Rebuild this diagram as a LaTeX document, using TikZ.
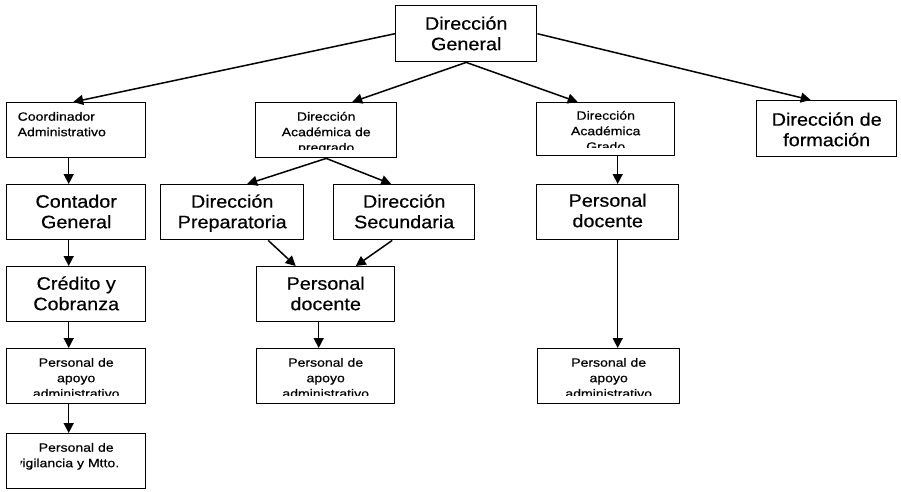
\documentclass[tikz,border=0pt]{standalone}
\usepackage{fontspec}
\setmainfont{Liberation Sans}
\newfontfamily\bigf[FakeStretch=1.1,FakeBold=0.4]{Liberation Sans}
\newfontfamily\smallf[FakeStretch=1.17,FakeBold=0.4]{Liberation Sans}
\usetikzlibrary{arrows.meta}
\def\ppb{path picture bounding box}
\newcommand{\BT}[1]{\parbox[t]{170pt}{\centering\bigf\fontsize{18}{20.5}\selectfont #1}}
\newcommand{\ST}[1]{\parbox[t]{170pt}{\centering\smallf\fontsize{12}{15.5}\selectfont #1}}
\newcommand{\SLL}[1]{\parbox[t]{120pt}{\raggedright\smallf\fontsize{12}{15.5}\selectfont #1}}
\newcommand{\SLR}[1]{\parbox[t]{120pt}{\raggedleft\smallf\fontsize{12}{15.5}\selectfont #1}}
\newcommand{\stdclip}{\clip ([yshift=8.5pt,xshift=2pt]\ppb.south west) rectangle ([xshift=-2pt]\ppb.north east);}
\newcommand{\orgbox}[6]{%
  \node[box, minimum width=#4pt, minimum height=#5pt, path picture={#6}] (#1) at (#2,#3) {};}
\tikzset{
  box/.style={draw, line width=1.4pt, rectangle, inner sep=0pt, anchor=north west},
  txt/.style={inner sep=0pt, anchor=base},
  arr/.style={line width=1.5pt, -{Triangle[length=10pt,width=10pt]}},
}
\begin{document}
\begin{tikzpicture}[x=1pt,y=-1pt]
\useasboundingbox[fill=white] (0,0) rectangle (901,491);
% row 0
\orgbox{DG}{395}{5}{141}{56}{\stdclip\node[txt] at ([yshift=-24pt]\ppb.north) {\BT{Dirección\\General}};}
% row 1
\orgbox{Coord}{6}{102}{139}{55}{\stdclip\node[txt] at ([xshift=1.5pt,yshift=-18pt]\ppb.north) {\SLL{Coordinador\\Administrativo}};}
\orgbox{Pre}{255}{102}{141}{55}{\stdclip\node[txt] at ([yshift=-18pt]\ppb.north) {\ST{Dirección\\Académica de\\pregrado}};}
\orgbox{Gra}{536}{102}{138}{53}{\stdclip\node[txt] at ([yshift=-17pt]\ppb.north) {\ST{Dirección\\Académica\\Grado}};}
\orgbox{For}{756}{100}{140}{56}{\stdclip\node[txt] at ([yshift=-25pt]\ppb.north) {\BT{Dirección de\\formación}};}
% row 2
\orgbox{Cont}{6}{184}{139}{55}{\stdclip\node[txt] at ([yshift=-23pt]\ppb.north) {\BT{Contador\\General}};}
\orgbox{Prep}{160}{184}{143}{55}{\stdclip\node[txt] at ([yshift=-23pt]\ppb.north) {\BT{Dirección\\Preparatoria}};}
\orgbox{Sec}{333}{184}{141}{55}{\stdclip\node[txt] at ([yshift=-23pt]\ppb.north) {\BT{Dirección\\Secundaria}};}
\orgbox{PDg}{536}{184}{142}{55}{\stdclip\node[txt] at ([yshift=-22pt]\ppb.north) {\BT{Personal\\docente}};}
% row 3
\orgbox{Cred}{6}{266}{139}{55}{\stdclip\node[txt] at ([yshift=-23pt]\ppb.north) {\BT{Crédito y\\Cobranza}};}
\orgbox{PDm}{256}{266}{138}{55}{\stdclip\node[txt] at ([yshift=-23pt]\ppb.north) {\BT{Personal\\docente}};}
% row 4
\orgbox{ApL}{6}{348}{139}{55}{\stdclip\node[txt] at ([yshift=-18pt]\ppb.north) {\ST{Personal de\\apoyo\\administrativo}};}
\orgbox{ApM}{256}{348}{138}{55}{\stdclip\node[txt] at ([yshift=-18pt]\ppb.north) {\ST{Personal de\\apoyo\\administrativo}};}
\orgbox{ApR}{537}{348}{142}{55}{\stdclip\node[txt] at ([yshift=-18pt]\ppb.north) {\ST{Personal de\\apoyo\\administrativo}};}
% row 5
\orgbox{Vig}{6}{433}{139}{55}{\clip ([xshift=14pt]\ppb.south west) rectangle ([xshift=-2pt]\ppb.north east);
  \node[txt] at ([yshift=-18pt]\ppb.north) {\ST{Personal de}};
  \node[txt] at ([xshift=-17pt,yshift=-33.5pt]\ppb.north) {\SLR{vigilancia y Mtto.}};}
% connectors
\draw[arr] (DG.west) -- ([xshift=-3pt]Coord.north);
\draw[arr] (DG.south) -- ([xshift=26pt]Pre.north);
\draw[arr] (DG.south) -- ([xshift=-28pt]Gra.north);
\draw[arr] (DG.east) -- ([xshift=-16pt]For.north);
\draw[arr] ([xshift=-7.5pt]Coord.south) -- ([xshift=-7.5pt]Cont.north);
\draw[arr] ([xshift=-7.5pt]Cont.south) -- ([xshift=-7.5pt]Cred.north);
\draw[arr] ([xshift=-7.5pt]Cred.south) -- ([xshift=-7.5pt]ApL.north);
\draw[arr] ([xshift=-7.5pt]ApL.south) -- ([xshift=-7.5pt]Vig.north);
\draw[arr] (Pre.south) -- ([xshift=15pt]Prep.north);
\draw[arr] (Pre.south) -- ([xshift=-13pt]Sec.north);
\draw[arr] ([xshift=36pt]Prep.south) -- ([xshift=-30pt]PDm.north);
\draw[arr] ([xshift=-12pt]Sec.south) -- ([xshift=30pt]PDm.north);
\draw[arr] ([xshift=-7pt]PDm.south) -- ([xshift=-7pt]ApM.north);
\draw[arr] ([xshift=12pt]Gra.south) -- ([xshift=10pt]PDg.north);
\draw[arr] ([xshift=10pt]PDg.south) -- ([xshift=9pt]ApR.north);
\end{tikzpicture}
\end{document}
